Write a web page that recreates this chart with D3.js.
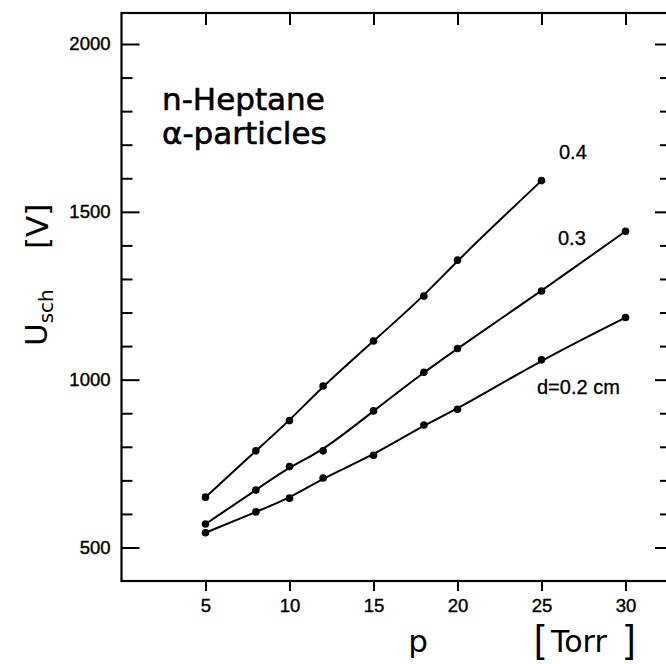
<!DOCTYPE html>
<html>
<head>
<meta charset="utf-8">
<script src="https://cdn.jsdelivr.net/npm/d3@7"></script>
<style>
  body { margin: 0; background: #fff; }
  svg text { fill: #000; }
</style>
</head>
<body>
<svg id="chart" width="666" height="664"></svg>
<script>
// pressure values (Torr) and sparking voltage U_sch (V)
var pD04 = [5, 8, 10, 12, 15, 18, 20, 25];
var uD04 = [650, 788, 878, 981, 1115, 1249, 1356, 1593];
var pD03 = [5, 8, 10, 12, 15, 18, 20, 25, 30];
var uD03 = [570, 671, 741, 788, 907, 1022, 1093, 1264, 1442];
var pD02 = [5, 8, 10, 12, 15, 18, 20, 25, 30];
var uD02 = [544, 606, 647, 707, 775, 865, 912, 1059, 1185];

var xTicks = [5, 10, 15, 20, 25, 30];
var yMajor = [500, 1000, 1500, 2000];
var yMinor = d3.range(500, 2001, 100).filter(function(v){ return v % 500 != 0; });

var svg = d3.select("#chart");

//note: "top" is taken by window.top, so use other names
var fLeft = 121.5, fRight = 670, fTop = 13, fBottom = 581;
var x = d3.scaleLinear().domain([0, 30]).range([fLeft, 625.5]);
var y = d3.scaleLinear().domain([500, 2000]).range([547.5, 44]);

var numFont = "'Liberation Sans', Arial, sans-serif";
var txtFont = "'DejaVu Sans', sans-serif";

//frame
svg.append("rect")
   .attr("x", fLeft).attr("y", fTop)
   .attr("width", fRight - fLeft).attr("height", fBottom - fTop)
   .attr("fill", "none").attr("stroke", "#000").attr("stroke-width", 2.2);

function styleAxis(g){
   g.select(".domain").remove();
   g.selectAll(".tick line").attr("stroke", "#000").attr("stroke-width", 2);
   g.selectAll(".tick text").attr("font-family", numFont).attr("font-size", 18.5)
    .attr("stroke", "#000").attr("stroke-width", 0.4).attr("fill", "#000");
}

//left axis: inward ticks, labels outside
svg.append("g").attr("transform", "translate(" + fLeft + ",0)")
   .call(d3.axisRight(y).tickValues(yMajor).tickSize(18).tickFormat(""))
   .call(styleAxis);
svg.append("g").attr("transform", "translate(" + fLeft + ",0)")
   .call(d3.axisRight(y).tickValues(yMinor).tickSize(11).tickFormat(""))
   .call(styleAxis);
svg.append("g").attr("transform", "translate(" + (fLeft - 1) + ",0)")
   .call(d3.axisLeft(y).tickValues(yMajor).tickSize(0).tickPadding(10).tickFormat(d3.format("d")))
   .call(styleAxis);

//right axis (frame edge is just off the picture)
svg.append("g").attr("transform", "translate(" + fRight + ",0)")
   .call(d3.axisLeft(y).tickValues(yMajor).tickSize(15).tickFormat(""))
   .call(styleAxis);
svg.append("g").attr("transform", "translate(" + fRight + ",0)")
   .call(d3.axisLeft(y).tickValues(yMinor).tickSize(10).tickFormat(""))
   .call(styleAxis);

//bottom axis: outward ticks with labels
svg.append("g").attr("transform", "translate(0," + fBottom + ")")
   .call(d3.axisBottom(x).tickValues(xTicks).tickSize(10).tickPadding(8).tickFormat(d3.format("d")))
   .call(styleAxis);
//top axis: inward ticks
svg.append("g").attr("transform", "translate(0," + fTop + ")")
   .call(d3.axisBottom(x).tickValues(xTicks).tickSize(12).tickFormat(""))
   .call(styleAxis);

//curves and points
var series = [
   {p: pD04, u: uD04},
   {p: pD03, u: uD03},
   {p: pD02, u: uD02}
];
var line = d3.line()
   .x(function(d){ return x(d[0]); })
   .y(function(d){ return y(d[1]); })
   .curve(d3.curveBasis);

series.forEach(function(s){
   var pts = d3.zip(s.p, s.u);
   svg.append("path").datum(pts)
      .attr("d", line)
      .attr("fill", "none").attr("stroke", "#000").attr("stroke-width", 2);
   svg.selectAll(null).data(pts).enter().append("circle")
      .attr("cx", function(d){ return x(d[0]); })
      .attr("cy", function(d){ return y(d[1]); })
      .attr("r", 3.8).attr("fill", "#000");
});

//curve labels
function small(xp, yp, t){
   svg.append("text").attr("x", xp).attr("y", yp)
      .attr("font-family", numFont).attr("font-size", 20)
      .attr("stroke", "#000").attr("stroke-width", 0.3).text(t);
}
small(559, 159, "0.4");
small(558, 245, "0.3");
small(537, 394, "d=0.2 cm");

//title
svg.append("text").attr("x", 162).attr("y", 110)
   .attr("font-family", txtFont).attr("font-size", 31)
   .attr("stroke", "#000").attr("stroke-width", 0.6).text("n-Heptane");
svg.append("text").attr("x", 162).attr("y", 144)
   .attr("font-family", txtFont).attr("font-size", 31)
   .attr("stroke", "#000").attr("stroke-width", 0.6).text("α-particles");

//x axis title
svg.append("text").attr("x", 418).attr("y", 652).attr("text-anchor", "middle")
   .attr("font-family", txtFont).attr("font-size", 31).text("p");
svg.append("text").attr("x", 534).attr("y", 652)
   .attr("font-family", numFont).attr("font-size", 38).text("[");
svg.append("text").attr("x", 551).attr("y", 652)
   .attr("font-family", txtFont).attr("font-size", 30).text("Torr");
svg.append("text").attr("x", 625).attr("y", 652)
   .attr("font-family", numFont).attr("font-size", 38).text("]");

//y axis title, rotated
var yt = svg.append("text")
   .attr("transform", "translate(47,346) rotate(-90)")
   .attr("font-family", txtFont).attr("font-size", 31);
yt.append("tspan").text("U");
yt.append("tspan").attr("font-size", 20).attr("dy", 6).text("sch");
svg.append("text")
   .attr("transform", "translate(48,249) rotate(-90)")
   .attr("font-family", txtFont).attr("font-size", 31).text("[V]");
</script>
</body>
</html>
